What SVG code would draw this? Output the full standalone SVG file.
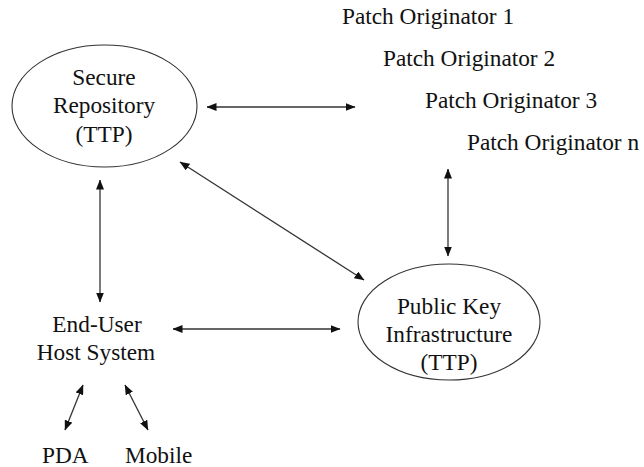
<svg xmlns="http://www.w3.org/2000/svg" width="644" height="467" viewBox="0 0 644 467">
  <style>
    .lbl { font-family: 'Liberation Serif', 'Times New Roman', serif; font-size: 23.3px; fill: #111; }
    .mid { text-anchor: middle; }
    .node-shape { fill: none; stroke: #333; stroke-width: 1.1; }
    .link { stroke: #333; stroke-width: 1.3; fill: none; marker-start: url(#tip); marker-end: url(#tip); }
  </style>
  <defs>
    <marker id="tip" viewBox="0 0 10 8" refX="9.5" refY="4" markerWidth="10" markerHeight="8" markerUnits="userSpaceOnUse" orient="auto-start-reverse">
      <path d="M0,0 L10,4 L0,8 z" fill="#111"/>
    </marker>
  </defs>

  <rect width="644" height="467" fill="#fff"/>

  <!-- connectors -->
  <g id="connectors">
    <line class="link" x1="207" y1="107" x2="355" y2="107"/>
    <line class="link" x1="180" y1="162" x2="364" y2="280"/>
    <line class="link" x1="100" y1="180" x2="100" y2="302"/>
    <line class="link" x1="448" y1="169" x2="448" y2="256"/>
    <line class="link" x1="173" y1="329" x2="340" y2="329"/>
    <line class="link" x1="83" y1="385" x2="65" y2="430"/>
    <line class="link" x1="125" y1="385" x2="148" y2="430"/>
  </g>

  <!-- Secure Repository -->
  <g id="secure-repository">
    <ellipse class="node-shape" cx="104.5" cy="106" rx="92.5" ry="61"/>
    <text class="lbl mid" x="104" y="85">Secure</text>
    <text class="lbl mid" x="104" y="113">Repository</text>
    <text class="lbl mid" x="104" y="142">(TTP)</text>
  </g>

  <!-- Patch originators -->
  <g id="patch-originators">
    <text class="lbl" x="342" y="24">Patch Originator 1</text>
    <text class="lbl" x="383" y="66">Patch Originator 2</text>
    <text class="lbl" x="425" y="108">Patch Originator 3</text>
    <text class="lbl" x="467" y="150">Patch Originator n</text>
  </g>

  <!-- Public Key Infrastructure -->
  <g id="pki">
    <ellipse class="node-shape" cx="449" cy="322" rx="91" ry="58"/>
    <text class="lbl mid" x="449" y="314">Public Key</text>
    <text class="lbl mid" x="449" y="342">Infrastructure</text>
    <text class="lbl mid" x="449" y="370">(TTP)</text>
  </g>

  <!-- End-User Host System -->
  <g id="end-user">
    <text class="lbl mid" x="97" y="332">End-User</text>
    <text class="lbl mid" x="96" y="360">Host System</text>
  </g>

  <g id="pda">
    <text class="lbl" x="42" y="463">PDA</text>
  </g>

  <g id="mobile">
    <text class="lbl" x="125" y="463">Mobile</text>
  </g>
</svg>
